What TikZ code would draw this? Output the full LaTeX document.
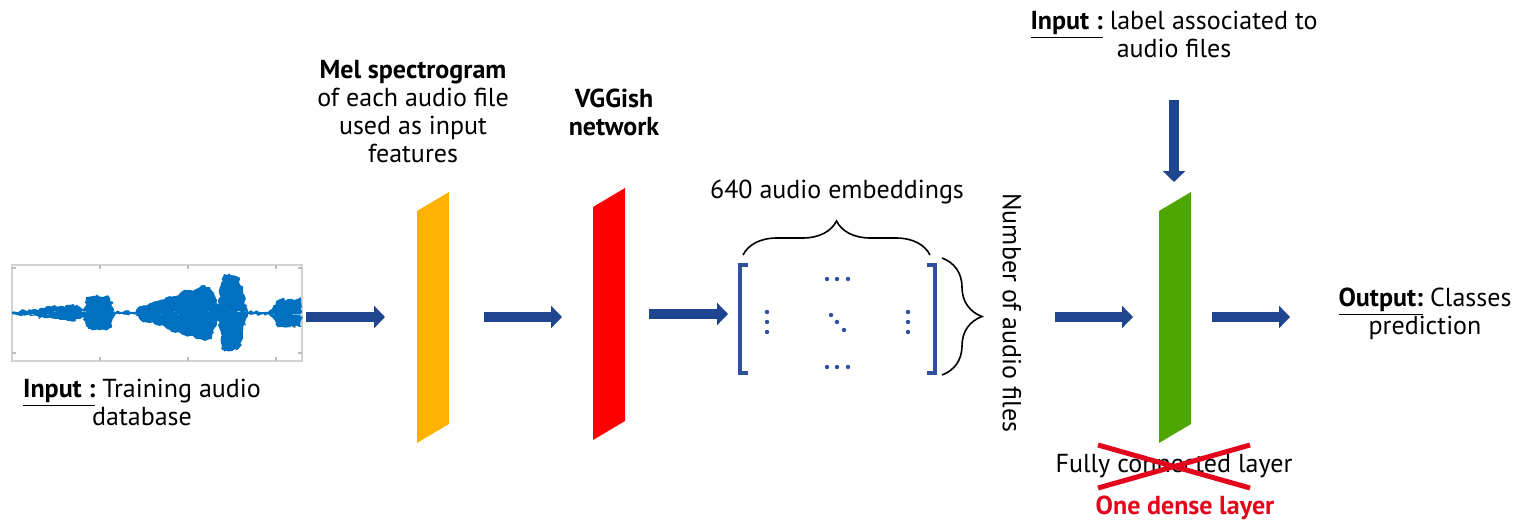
\documentclass[tikz,border=0pt]{standalone}
\usepackage{fontspec}
\setmainfont{PT Sans}
\usetikzlibrary{arrows.meta,decorations.pathreplacing,decorations.pathmorphing}
\definecolor{arrowblue}{HTML}{1F4591}
\definecolor{waveblue}{HTML}{0070C0}
\definecolor{melorange}{HTML}{FFB300}
\definecolor{vggred}{HTML}{FF0000}
\definecolor{densegreen}{HTML}{4EA600}
\definecolor{crossred}{HTML}{E3051B}
\definecolor{matblue}{HTML}{2F4F9F}
\newcommand\wavehalf{%
  plot coordinates {(12,-1) (30,-3) (45,-5) (60,-7) (70,-8) (80,-6) (84,-5)
    (86,-13) (88,-16) (95,-17) (105,-17) (110,-15) (112,-12) (114,-4) (116,-1)
    (133,-1) (136,-3) (140,-7) (150,-10) (160,-13) (170,-17) (180,-20) (190,-23)
    (200,-26) (205,-28) (210,-26) (214,-20) (216,-14) (219,-8) (221,-30) (224,-39)
    (230,-38) (236,-37) (240,-34) (243,-20) (246,-6) (248,-1) (268,-1) (272,-4)
    (276,-12) (280,-14) (290,-14) (301,-14)} -- (301,0) -- (12,0) -- cycle}
\begin{document}
\begin{tikzpicture}[x=0.5pt,y=-0.5pt,
  font=\fontsize{13}{14}\selectfont,
  flow/.style={line width=5pt, arrowblue, -{Triangle[length=5.5pt,width=11pt]}},
  lbl/.style={align=center, inner sep=0pt},
  brk/.style={matblue, line width=1.6pt},
  mdot/.style={matblue, radius=2.2},
  curly/.style={decorate, decoration={brace, amplitude=#1}, line width=0.8pt},
  cross/.style={crossred, line width=2.5pt},
  rough/.style={decorate, decoration={random steps, segment length=1.2pt, amplitude=0.9pt}}]
\useasboundingbox (0,0) rectangle (1518,519);
\pgfmathsetseed{7}

% audio waveform panel
\node[draw=gray!35, line width=0.8pt, minimum width=145pt, minimum height=48pt,
      inner sep=0pt] (wave) at (157,313) {};
\foreach \x in {100,188,276} {
  \draw[gray!50, line width=0.6pt] (\x,265) -- (\x,269) (\x,361) -- (\x,357);
}
\foreach \y in {268,353} {
  \draw[gray!50, line width=0.6pt] (12,\y) -- (16,\y) (302,\y) -- (298,\y);
}
\begin{scope}[shift={(0,313)}]
  \fill[waveblue, rough] \wavehalf;
  \begin{scope}[yscale=-1]
    \fill[waveblue, rough] \wavehalf;
  \end{scope}
  \fill[waveblue] (12,-1.2) rectangle (301,1.2);
\end{scope}
\node[lbl] (inlabel) at (142,402)
  {\underline{\textbf{Input :}} Training audio\\database};

% layers
\fill[melorange] (417,211) -- (449,192) -- (449,424) -- (417,443) -- cycle;
\coordinate (mel) at (433,317);
\fill[vggred] (593,207) -- (625,188) -- (625,421) -- (593,440) -- cycle;
\coordinate (vgg) at (609,314);
\fill[densegreen] (1159,211) -- (1191,192) -- (1191,424) -- (1159,443) -- cycle;
\coordinate (dense) at (1175,317);

\node[lbl] (mellabel) at (413,111.5)
  {\textbf{Mel spectrogram}\\of each audio file\\used as input\\features};
\node[lbl] (vgglabel) at (614,112.5) {\textbf{VGGish}\\\textbf{network}};

% embedding matrix
\coordinate (mtl) at (740,265);
\coordinate (mbr) at (935,373);
\draw[brk] (748,265) -- (740,265) -- (740,373) -- (748,373);
\draw[brk] (927,265) -- (935,265) -- (935,373) -- (927,373);
\foreach \x in {827,837,848} {
  \fill[mdot] (\x,279) circle; \fill[mdot] (\x,367) circle;
}
\foreach \y in {312,322,332} {
  \fill[mdot] (767,\y) circle; \fill[mdot] (908,\y) circle;
}
\fill[mdot] (831,315) circle; \fill[mdot] (837,322) circle; \fill[mdot] (844,330) circle;

\coordinate (bl) at (743,255);
\coordinate (br) at (930,255);
\draw[curly=17pt] (bl) -- (br);
\node[lbl] (emb) at (837,192) {640 audio embeddings};
\coordinate (rt) at (942,258);
\coordinate (rb) at (942,375);
\draw[curly=20pt] (rt) -- (rb);
\node[lbl, rotate=-90] (nfiles) at (1012,313) {Number of audio files};

% dense layer labels
\node[lbl] (lab) at (1174,34) {\underline{\textbf{Input :}} label associated to\\audio files};
\node[lbl] (out) at (1425,314) {\underline{\textbf{Output:}} Classes\\prediction};
\node[lbl] (fc) at (1174,466) {Fully connected layer};
\coordinate (x1) at (1098,445);
\coordinate (x2) at (1250,488);
\coordinate (x3) at (1098,488);
\coordinate (x4) at (1250,445);
\draw[cross] (x1) -- (x2) (x3) -- (x4);
\node[lbl, text=crossred] (one) at (1185,508) {\textbf{One dense layer}};

% flow arrows
\coordinate (a1s) at (306,317); \coordinate (a1e) at (385,317);
\coordinate (a2s) at (484,317); \coordinate (a2e) at (562,317);
\coordinate (a3s) at (649,314); \coordinate (a3e) at (728,314);
\coordinate (a4s) at (1055,317); \coordinate (a4e) at (1133,317);
\coordinate (a5s) at (1212,317); \coordinate (a5e) at (1290,317);
\coordinate (a6s) at (1174,100); \coordinate (a6e) at (1174,182);
\draw[flow] (a1s) -- (a1e);
\draw[flow] (a2s) -- (a2e);
\draw[flow] (a3s) -- (a3e);
\draw[flow] (a4s) -- (a4e);
\draw[flow] (a5s) -- (a5e);
\draw[flow] (a6s) -- (a6e);
\end{tikzpicture}
\end{document}
